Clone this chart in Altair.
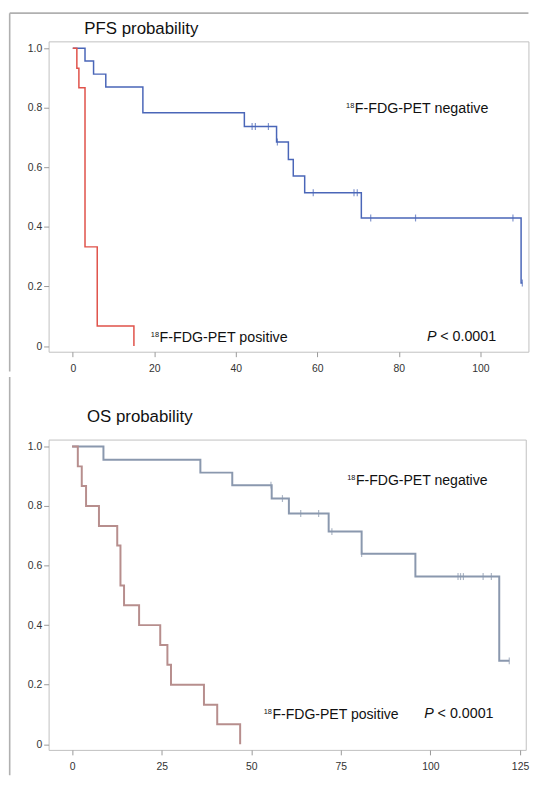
import altair as alt
import pandas as pd

FONT = "Liberation Sans"

# ---------------- PFS (top panel) ----------------
pfs_neg_time = [0, 3.0, 5.1, 8.1, 17.2, 42.1, 50.0, 52.9, 54.1, 56.9, 70.8, 110.0, 110.3]
pfs_neg_surv = [1.0, 0.957, 0.913, 0.870, 0.783, 0.737, 0.685, 0.626, 0.571, 0.515, 0.430, 0.212, 0.212]
pfs_neg_cens_time = [44.0, 44.8, 48.0, 50.2, 59.0, 69.0, 69.8, 73.1, 84.1, 108.0, 110.3]
pfs_neg_cens_surv = [0.737, 0.737, 0.737, 0.685, 0.515, 0.515, 0.515, 0.430, 0.430, 0.430, 0.212]
pfs_pos_time = [0, 1.0, 1.5, 3.0, 6.0, 15.0]
pfs_pos_surv = [1.0, 0.933, 0.867, 0.333, 0.067, 0.0]

# ---------------- OS (bottom panel) ----------------
os_neg_time = [0, 8.75, 35.8, 44.7, 55.7, 60.5, 71.6, 80.8, 95.8, 119.2, 122.0]
os_neg_surv = [1.0, 0.955, 0.912, 0.870, 0.825, 0.775, 0.714, 0.640, 0.563, 0.280, 0.280]
os_neg_cens_time = [55.5, 58.7, 63.8, 68.8, 72.5, 80.8, 107.7, 108.4, 109.2, 114.7, 117.0, 122.0]
os_neg_cens_surv = [0.870, 0.825, 0.775, 0.775, 0.714, 0.640, 0.563, 0.563, 0.563, 0.563, 0.563, 0.280]
os_pos_time = [0, 1.6, 2.7, 3.9, 7.5, 12.6, 13.5, 14.5, 18.7, 24.6, 26.6, 27.6, 36.8, 40.5, 46.9]
os_pos_surv = [1.0, 0.933, 0.867, 0.800, 0.733, 0.667, 0.533, 0.467, 0.400, 0.333, 0.267, 0.200, 0.133, 0.067, 0.0]

# ticks / labels
pfs_xticks = [0, 20, 40, 60, 80, 100]
os_xticks = [0, 25, 50, 75, 100, 125]
y_ticks = [0, 0.2, 0.4, 0.6, 0.8, 1.0]
pfs_title = "PFS probability"
os_title = "OS probability"
neg_label = "F-FDG-PET negative"
pos_label = "F-FDG-PET positive"
iso_label = "18"
p_italic = "P"
p_rest = "< 0.0001"

FRAME = "#b0b0b0"
AXIS_EXT = 39.3
XAXIS_EXT = 20


def df(t, s):
    return pd.DataFrame({"t": t, "s": s})


def panel(title, title_dx, title_offset, xdom, xticks, width, height,
          neg, neg_c, pos, col_neg, col_pos, lw,
          neg_pos, pos_pos, p_pos, fs, frame_top, frame_bottom, top_line):
    xs = alt.Scale(domain=xdom, nice=False, zero=False)
    ys = alt.Scale(domain=[-0.019, 1.023], nice=False, zero=False)
    xax = alt.Axis(values=xticks, title=None, grid=False, domain=False, tickSize=5,
                   labelPadding=7, labelFontSize=10.5, labelColor="#333", tickColor="#999",
                   labelFont=FONT, labelFlush=False,
                   minExtent=XAXIS_EXT, maxExtent=XAXIS_EXT)
    yax = alt.Axis(values=y_ticks, title=None, grid=False, domain=False, tickSize=5,
                   labelPadding=2, labelFontSize=10.5, labelColor="#333", tickColor="#999",
                   labelFont=FONT, minExtent=AXIS_EXT, maxExtent=AXIS_EXT,
                   labelExpr="datum.value == 0 ? '0' : format(datum.value, '.1f')")
    X = alt.X("t:Q", scale=xs, axis=xax)
    Y = alt.Y("s:Q", scale=ys, axis=yax)

    l_neg = alt.Chart(neg).mark_line(interpolate="step-after", color=col_neg,
                                     strokeWidth=lw).encode(x=X, y=Y)
    l_pos = alt.Chart(pos).mark_line(interpolate="step-after", color=col_pos,
                                     strokeWidth=lw).encode(x=X, y=Y)
    c_neg = alt.Chart(neg_c).mark_tick(orient="vertical", size=7, thickness=1.2,
                                       color=col_neg).encode(x=X, y=Y)

    def lab(pos_xy, text):
        d = df([pos_xy[0]], [pos_xy[1]])
        sup = alt.Chart(d).mark_text(text=iso_label, align="right", baseline="alphabetic",
                                     fontSize=7.5, font=FONT, dx=-0.5, dy=-5,
                                     color="#111").encode(x=X, y=Y)
        main = alt.Chart(d).mark_text(text=text, align="left", baseline="alphabetic",
                                      fontSize=fs, font=FONT, color="#111").encode(x=X, y=Y)
        return [sup, main]

    dp = df([p_pos[0]], [p_pos[1]])
    p1 = alt.Chart(dp).mark_text(text=p_italic, align="left", baseline="alphabetic",
                                 fontSize=14.4, font=FONT, fontStyle="italic",
                                 color="#111").encode(x=X, y=Y)
    p2 = alt.Chart(dp).mark_text(text=p_rest, align="left", baseline="alphabetic",
                                 fontSize=14.4, font=FONT, dx=13.4,
                                 color="#111").encode(x=X, y=Y)

    one = pd.DataFrame({"k": [0]})
    ttl = alt.Chart(one).mark_text(text=title, align="left", baseline="alphabetic",
                                   fontSize=17, font=FONT, color="#111").encode(
        x=alt.value(title_dx), y=alt.value(-title_offset))
    # figure frame (left edge, and top edge on the first panel)
    vline = alt.Chart(one).mark_rule(color=FRAME, strokeWidth=1.6).encode(
        x=alt.value(-AXIS_EXT), y=alt.value(frame_top), y2=alt.value(frame_bottom))
    layers = [vline]
    if top_line:
        hline = alt.Chart(one).mark_rule(color=FRAME, strokeWidth=1.6).encode(
            x=alt.value(-AXIS_EXT), x2=alt.value(width), y=alt.value(frame_top))
        layers.append(hline)

    layers += [l_neg, l_pos, c_neg] + lab(neg_pos, neg_label) + lab(pos_pos, pos_label) + [p1, p2, ttl]
    return alt.layer(*layers).properties(width=width, height=height)


top = panel(pfs_title, 36, 7.4, [-5.93, 111.8], pfs_xticks, 484.4, 313.3,
            df(pfs_neg_time, pfs_neg_surv), df(pfs_neg_cens_time, pfs_neg_cens_surv),
            df(pfs_pos_time, pfs_pos_surv), "#4a66b8", "#e0524a", 1.5,
            (69.2, 0.782), (21.3, 0.014), (86.9, 0.017), 14.4,
            -28.5, 313.3 + XAXIS_EXT, True)

bottom = panel(os_title, 38.7, 17.5, [-6.55, 126.6], os_xticks, 481.7, 313.3,
               df(os_neg_time, os_neg_surv), df(os_neg_cens_time, os_neg_cens_surv),
               df(os_pos_time, os_pos_surv), "#8a98ae", "#b78e8d", 2.0,
               (79.2, 0.869), (55.9, 0.086), (98.3, 0.087), 14.2,
               -63.2, 339, False)

chart = alt.vconcat(top, bottom, spacing=0).properties(
    padding={"left": 0, "top": 0, "right": 2, "bottom": 0}
).configure_view(stroke="#c0c0c0", strokeWidth=1)

chart.save("out.html", embed_options={"renderer": "svg", "actions": False})
